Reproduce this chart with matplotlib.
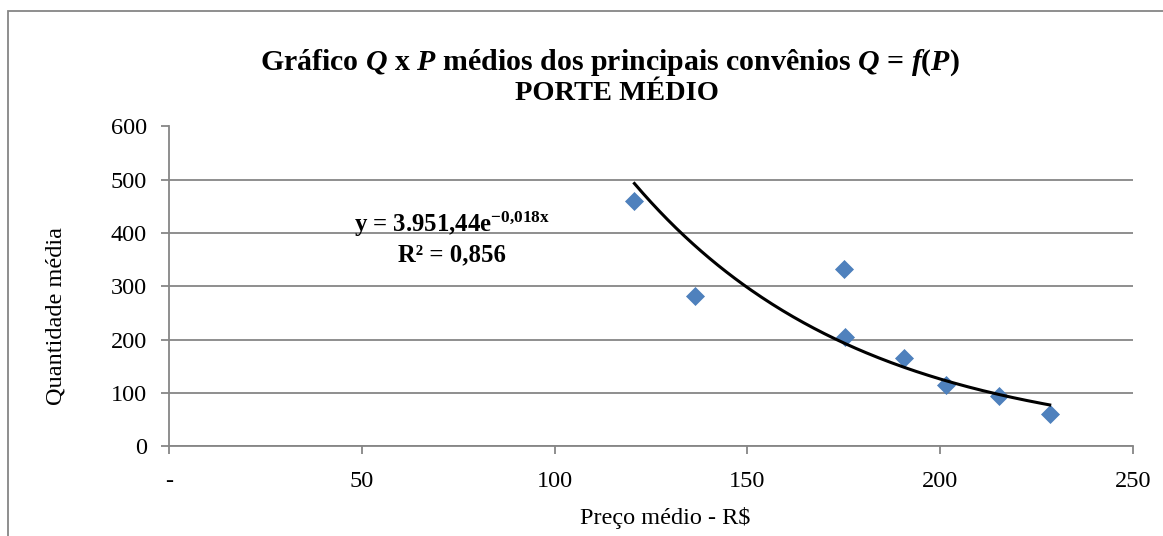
import numpy as np
import matplotlib
matplotlib.use('Agg')
import matplotlib.pyplot as plt
from matplotlib.patches import Rectangle

# preco medio (R$) x quantidade media - porte medio
preco = [120.7, 136.4, 175.1, 175.3, 190.6, 201.6, 215.2, 228.4]
quant = [461, 281, 333, 204, 165, 115, 93, 60]

xticks = [0, 50, 100, 150, 200, 250]
xtick_labels = ['-', '50', '100', '150', '200', '250']
yticks = [0, 100, 200, 300, 400, 500, 600]

eq_label = r'y = 3.951,44e$^{\mathrm{-0{,}018x}}$'
r2_label = 'R\u00b2 = 0,856'

plt.rcParams['font.family'] = 'Liberation Serif'
plt.rcParams['mathtext.fontset'] = 'custom'
plt.rcParams['mathtext.rm'] = 'Liberation Serif:bold'
plt.rcParams['mathtext.it'] = 'Liberation Serif:bold:italic'
plt.rcParams['mathtext.bf'] = 'Liberation Serif:bold'

W, H = 1163, 536
fig = plt.figure(figsize=(W / 100, H / 100), dpi=100)
ax = fig.add_axes([169 / W, 1 - 446 / H, (1133 - 169) / W, (446 - 126.5) / H])

grey = '#868686'

# exponential trend line (same fit as Excel: ln y linear in x)
b, lna = np.polyfit(preco, np.log(quant), 1)
xs = np.linspace(min(preco), max(preco), 200)
ax.plot(xs, np.exp(lna) * np.exp(b * xs), color='black', lw=2.2, zorder=3)

ax.plot(preco, quant, linestyle='none', marker='D', markersize=9.5,
        markerfacecolor='#4F81BD', markeredgecolor='#4A7EBB', markeredgewidth=0.5,
        zorder=2)

ax.set_xlim(0, 250)
ax.set_ylim(0, 600)
ax.set_xticks(xticks, xtick_labels)
ax.set_yticks(yticks)
ax.grid(axis='y', color=grey, lw=1.3)
ax.set_axisbelow(True)
for s in ['top', 'right']:
    ax.spines[s].set_visible(False)
for s in ['left', 'bottom']:
    ax.spines[s].set_color(grey)
    ax.spines[s].set_linewidth(1.3)
ax.tick_params(axis='both', direction='out', length=6, width=1.3, color=grey,
               labelsize=17.5, labelcolor='black')
ax.tick_params(axis='y', pad=10)
ax.tick_params(axis='x', pad=12)

ax.set_xlabel('Preço médio - R$', fontsize=17.5)
ax.xaxis.set_label_coords(0.5145, -0.244)
ax.xaxis.label.set_verticalalignment('baseline')
ax.set_ylabel('Quantidade média', fontsize=17.5)
ax.yaxis.set_label_coords(-0.112, 0.408)
ax.yaxis.label.set_verticalalignment('baseline')

ax.text(73.5, 402, eq_label, ha='center', va='baseline', fontsize=17.8,
        fontweight='bold')
ax.text(73.5, 347, r2_label, ha='center', va='baseline', fontsize=17.8,
        fontweight='bold')

fig.text(610 / W, 1 - 69.5 / H,
         r'Gráfico $Q$ x $P$ médios dos principais convênios $Q$ = $\mathit{f(P)}$',
         ha='center', va='baseline', fontsize=21.5, fontweight='bold')
fig.text(617 / W, 1 - 100.5 / H, 'PORTE MÉDIO', ha='center', va='baseline',
         fontsize=20.5, fontweight='bold')

# chart area border
fig.patches.append(Rectangle((8 / W, -0.1), 1.2, 1.1 - 11 / H,
                             transform=fig.transFigure, fill=False,
                             edgecolor=grey, lw=1.3))

fig.savefig('out.png', dpi=100)
